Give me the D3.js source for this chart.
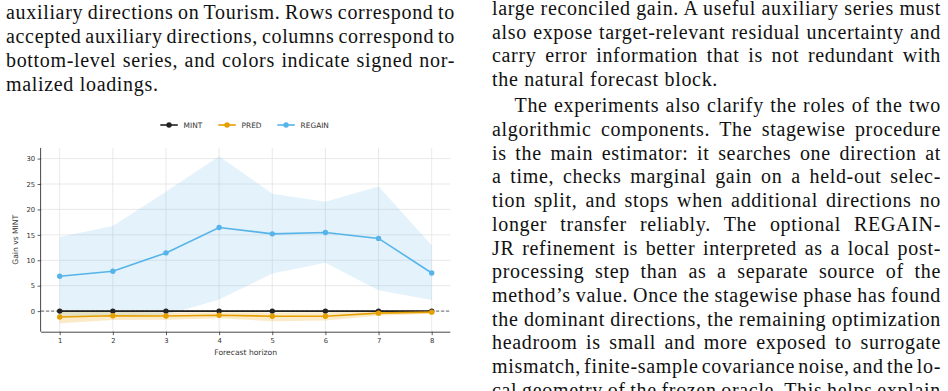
<!DOCTYPE html>
<html>
<head>
<meta charset="utf-8">
<style>
  html, body { margin: 0; padding: 0; background: #fff; }
  svg { display: block; }
  .body-text { font-family: "Liberation Serif", "Times New Roman", serif; font-size: 20px; fill: #111; }
  .chart text { font-family: "DejaVu Sans", sans-serif; fill: #333; }
</style>
</head>
<body>
<svg id="page" width="948" height="391"></svg>

<script src="https://d3js.org/d3.v7.min.js"></script>
<script>
// ---- data ----
var horizons = [1, 2, 3, 4, 5, 6, 7, 8];
var mint = [0, 0, 0, 0, 0, 0, 0, 0];
var pred = [-1.15, -0.9, -0.95, -0.8, -1.0, -1.0, -0.4, -0.2];
var predLo = [-2.4, -1.75, -1.7, -1.4, -2.0, -1.85, -0.9, -0.5];
var predHi = [0.05, -0.15, -0.25, -0.2, -0.25, -0.2, 0.0, 0.05];
var regain = [6.85, 7.85, 11.45, 16.45, 15.2, 15.45, 14.3, 7.5];
var regainLo = [-1.1, -0.8, -0.7, 2.3, 7.4, 9.5, 4.1, 2.2];
var regainHi = [14.6, 16.75, 23.5, 30.45, 23.1, 21.5, 24.5, 12.95];
var yTicks = [0, 5, 10, 15, 20, 25, 30];
var seriesNames = ["MINT", "PRED", "REGAIN"];

var leftLines = [
    "auxiliary directions on Tourism. Rows correspond to",
    "accepted auxiliary directions, columns correspond to",
    "bottom-level series, and colors indicate signed nor-",
    "malized loadings."
];
var rightPara1 = [
    "large reconciled gain. A useful auxiliary series must",
    "also expose target-relevant residual uncertainty and",
    "carry error information that is not redundant with",
    "the natural forecast block."
];
var rightPara2 = [
    "The experiments also clarify the roles of the two",
    "algorithmic components. The stagewise procedure",
    "is the main estimator: it searches one direction at",
    "a time, checks marginal gain on a held-out selec-",
    "tion split, and stops when additional directions no",
    "longer transfer reliably. The optional REGAIN-",
    "JR refinement is better interpreted as a local post-",
    "processing step than as a separate source of the",
    "method\u2019s value. Once the stagewise phase has found",
    "the dominant directions, the remaining optimization",
    "headroom is small and more exposed to surrogate",
    "mismatch, finite-sample covariance noise, and the lo-",
    "cal geometry of the frozen oracle. This helps explain"
];

var colors = {MINT: "#222222", PRED: "#E69F00", REGAIN: "#56B4E9"};

var svg = d3.select("#page");

// ---- body text ----
// the substitute serif is narrower than the original, so widen it with
// letter spacing chosen so an unjustified line keeps its original length
var probe = svg.append("text").attr("class", "body-text").text(rightPara1[3]);
var probeW = probe.node().getComputedTextLength();
probe.remove();
var letterSp = Math.max(0, (226 - probeW) / rightPara1[3].length);

function textLine(x, y, width, str, justify) {
    var t = svg.append("text").attr("class", "body-text")
        .attr("x", x).attr("y", y)
        .attr("letter-spacing", letterSp)
        .text(str);
    if (justify) {
        var spaces = (str.match(/ /g) || []).length;
        if (spaces > 0) {
            var w = t.node().getBBox().width;
            t.attr("word-spacing", (width - w) / spaces);
            w = t.node().getBBox().width;
            var ws = +t.attr("word-spacing") + (width - w) / spaces;
            t.attr("word-spacing", ws);
        }
    }
}

var colW = 449;
leftLines.forEach(function (s, i) {
    textLine(6, 19 + 23.9 * i, colW, s, i < leftLines.length - 1);
});
rightPara1.forEach(function (s, i) {
    textLine(492, 15 + 23.7 * i, colW, s, i < rightPara1.length - 1);
});
rightPara2.forEach(function (s, i) {
    var ind = i === 0 ? 22.5 : 0;
    textLine(492 + ind, 112.3 + 23.7 * i, colW - ind, s, true);
});

// ---- chart ----
var g = svg.append("g").attr("class", "chart");

var x = d3.scaleLinear().domain([0.65, 8.35]).range([41.1, 450.3]);
var y = d3.scaleLinear().domain([-4.05, 32.1]).range([331.7, 147.9]);

// grid
g.append("g").selectAll("line").data(horizons).enter().append("line")
    .attr("x1", d => x(d)).attr("x2", d => x(d))
    .attr("y1", y.range()[0]).attr("y2", y.range()[1])
    .attr("stroke", "#e3e3e3").attr("stroke-width", 0.8);
g.append("g").selectAll("line").data(yTicks).enter().append("line")
    .attr("x1", x.range()[0]).attr("x2", x.range()[1])
    .attr("y1", d => y(d)).attr("y2", d => y(d))
    .attr("stroke", "#e3e3e3").attr("stroke-width", 0.8);

function rows(lo, hi) {
    return horizons.map((h, i) => ({h: h, lo: lo[i], hi: hi[i]}));
}
var area = d3.area().x(d => x(d.h)).y0(d => y(d.lo)).y1(d => y(d.hi));

g.append("path").datum(rows(regainLo, regainHi)).attr("d", area)
    .attr("fill", colors.REGAIN).attr("fill-opacity", 0.17);
g.append("path").datum(rows(predLo, predHi)).attr("fill", colors.PRED)
    .attr("d", area).attr("fill-opacity", 0.22);

// zero reference
g.append("line")
    .attr("x1", x.range()[0]).attr("x2", x.range()[1])
    .attr("y1", y(0)).attr("y2", y(0))
    .attr("stroke", "#444").attr("stroke-width", 0.8)
    .attr("stroke-dasharray", "3,2");

var line = d3.line().x(d => x(d.h)).y(d => y(d.v));
var seriesVals = {MINT: mint, PRED: pred, REGAIN: regain};
seriesNames.forEach(function (name) {
    var pts = horizons.map((h, i) => ({h: h, v: seriesVals[name][i]}));
    g.append("path").datum(pts).attr("d", line)
        .attr("fill", "none").attr("stroke", colors[name]).attr("stroke-width", 1.6);
    g.append("g").selectAll("circle").data(pts).enter().append("circle")
        .attr("cx", d => x(d.h)).attr("cy", d => y(d.v)).attr("r", 2.7)
        .attr("fill", colors[name]);
});

// axes
var xAxis = g.append("g").attr("transform", "translate(0," + y.range()[0] + ")")
    .call(d3.axisBottom(x).tickValues(horizons).tickSize(3.5).tickPadding(2.5).tickFormat(d3.format("d")));
var yAxis = g.append("g").attr("transform", "translate(" + x.range()[0] + ",0)")
    .call(d3.axisLeft(y).tickValues(yTicks).tickSize(3.5).tickPadding(2.5).tickFormat(d3.format("d")));
[xAxis, yAxis].forEach(function (ax) {
    ax.select(".domain").attr("stroke", "#333").attr("stroke-width", 0.9);
    ax.selectAll(".tick line").attr("stroke", "#333").attr("stroke-width", 0.8);
    ax.selectAll(".tick text").attr("font-size", 6.8).attr("fill", "#333")
        .attr("font-family", "DejaVu Sans");
});
// keep only the spines themselves (no end caps)
xAxis.select(".domain").attr("d", "M" + x.range()[0] + ",0.5H" + x.range()[1]);
yAxis.select(".domain").attr("d", "M-0.5," + y.range()[0] + "V" + y.range()[1]);

g.append("text").attr("x", (x.range()[0] + x.range()[1]) / 2).attr("y", 355)
    .attr("text-anchor", "middle").attr("font-size", 7.6).text("Forecast horizon");
g.append("text").attr("transform", "translate(17.5," + (y.range()[0] + y.range()[1]) / 2 + ") rotate(-90)")
    .attr("text-anchor", "middle").attr("font-size", 7.6).text("Gain vs MINT");

// legend
var legendX = [160.3, 218.3, 277.3];
var leg = g.append("g").attr("transform", "translate(0,125)");
seriesNames.forEach(function (name, i) {
    var lx = legendX[i];
    leg.append("line").attr("x1", lx).attr("x2", lx + 17.5).attr("y1", 0).attr("y2", 0)
        .attr("stroke", colors[name]).attr("stroke-width", 1.6);
    leg.append("circle").attr("cx", lx + 8.75).attr("cy", 0).attr("r", 2.7).attr("fill", colors[name]);
    leg.append("text").attr("x", lx + 23.3).attr("y", 2.6).attr("font-size", 7.4).text(name);
});
</script>
</body>
</html>
